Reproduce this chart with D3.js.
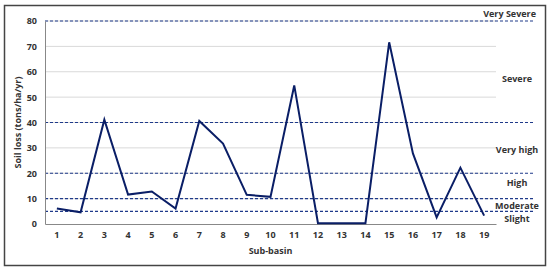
<!DOCTYPE html>
<html>
<head>
<meta charset="utf-8">
<script src="https://cdn.jsdelivr.net/npm/d3@7"></script>
<style>
  body { margin: 0; background: #fff; }
  svg text { font-family: "Open Sans", "Liberation Sans", sans-serif; font-weight: bold; fill: #333; }
</style>
</head>
<body>
<div id="chart"></div>
<script>
// data sub-basin
const subBasins = d3.range(1, 20);
const soilLoss  = [6.1, 4.6, 41.1, 11.6, 12.8, 6.1, 40.6, 31.7, 11.5, 10.7,
                   54.6, 0.3, 0.3, 0.3, 71.6, 27.8, 2.6, 22.2, 3.3];

const yTicks      = [0, 10, 20, 30, 40, 50, 60, 70, 80];
const classBreaks = [5, 10, 20, 40, 80];
const classLabels = ["Very Severe", "Severe", "Very high", "High", "Moderate", "Slight"];
const classMid    = [84, 57, 29, 16.3, 7.2, 2.1];

const W = 550, H = 271;
const margin = { top: 21, right: 54, bottom: 47, left: 45 };

const svg = d3.select("#chart").append("svg")
  .attr("width", W).attr("height", H);

// bingkai luar
svg.append("rect")
  .attr("x", 4.5).attr("y", 5.5)
  .attr("width", 541).attr("height", 260)
  .attr("fill", "none").attr("stroke", "#444").attr("stroke-width", 1.5);

const x = d3.scaleBand()
  .domain(subBasins)
  .range([margin.left, W - margin.right]);

const y = d3.scaleLinear()
  .domain([0, 80])
  .range([H - margin.bottom, margin.top]);

const xEnd = W - margin.right;

// grid abu-abu
svg.append("g")
  .selectAll("line")
  .data(yTicks.filter(d => d > 0))
  .join("line")
  .attr("x1", margin.left).attr("x2", xEnd)
  .attr("y1", d => y(d)).attr("y2", d => y(d))
  .attr("stroke", "#d9d9d9").attr("stroke-width", 1);

// garis batas kelas (putus-putus)
svg.append("g")
  .selectAll("line")
  .data(classBreaks)
  .join("line")
  .attr("x1", margin.left).attr("x2", 535)
  .attr("y1", d => y(d)).attr("y2", d => y(d))
  .attr("stroke", "#1f3a8a").attr("stroke-width", 1.2)
  .attr("stroke-dasharray", "3,2");

// sumbu y
const yAxis = svg.append("g")
  .attr("transform", `translate(${margin.left},0)`)
  .call(d3.axisLeft(y).tickValues(yTicks).tickSize(0).tickPadding(8));
yAxis.select(".domain").attr("stroke", "#888");
yAxis.selectAll("text").attr("font-size", "9px");

// sumbu x
const xAxis = svg.append("g")
  .attr("transform", `translate(0,${y(0)})`)
  .call(d3.axisBottom(x).tickSize(0).tickPadding(8));
xAxis.select(".domain").attr("stroke", "#888").attr("stroke-width", 1.2);
xAxis.selectAll("text").attr("font-size", "9px");

// label sumbu
svg.append("text")
  .attr("x", (margin.left + xEnd) / 2)
  .attr("y", 254)
  .attr("text-anchor", "middle")
  .attr("font-size", "9px")
  .text("Sub-basin");

svg.append("text")
  .attr("transform", `translate(21,${y(40)}) rotate(-90)`)
  .attr("text-anchor", "middle")
  .attr("font-size", "9px")
  .text("Soil loss (tons/ha/yr)");

// garis data
const line = d3.line()
  .x((d, i) => x(subBasins[i]) + x.bandwidth() / 2)
  .y(d => y(d));

svg.append("path")
  .datum(soilLoss)
  .attr("d", line)
  .attr("fill", "none")
  .attr("stroke", "#0a1e66")
  .attr("stroke-width", 2)
  .attr("stroke-linejoin", "miter");

// label kelas di kanan
svg.append("g")
  .selectAll("text")
  .data(classLabels)
  .join("text")
  .attr("x", (d, i) => i === 0 ? 536 : 517)
  .attr("y", (d, i) => i === 0 ? 17 : y(classMid[i]) + 3)
  .attr("text-anchor", (d, i) => i === 0 ? "end" : "middle")
  .attr("font-size", "9px")
  .text(d => d);
</script>
</body>
</html>
